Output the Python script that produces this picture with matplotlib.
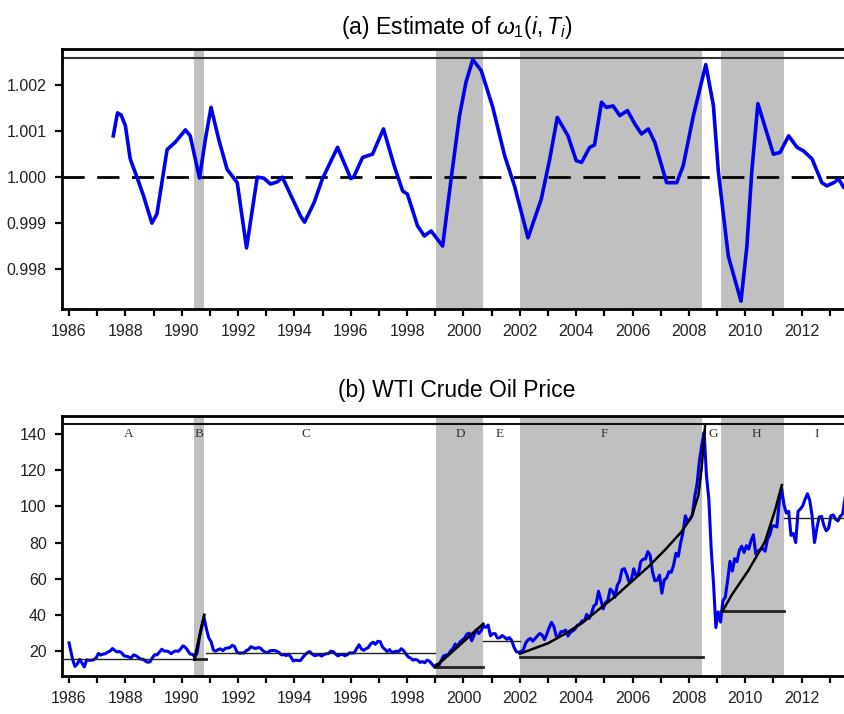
import matplotlib.pyplot as plt
import numpy as np
from matplotlib.ticker import MultipleLocator, FuncFormatter

# (a) estimate of omega_1(i, T_i)
om_t = [1987.57, 1987.72, 1987.85, 1988.0, 1988.17, 1988.41, 1988.64, 1988.94, 1989.12,
        1989.48, 1989.77, 1990.13, 1990.3, 1990.63, 1990.84, 1991.04, 1991.31, 1991.61,
        1991.97, 1992.3, 1992.68, 1992.91, 1993.15, 1993.4, 1993.57, 1994.22, 1994.36,
        1994.7, 1994.99, 1995.53, 1996.0, 1996.1, 1996.42, 1996.77, 1997.16, 1997.54,
        1997.84, 1998.01, 1998.37, 1998.61, 1998.85, 1999.26, 1999.56, 1999.86, 2000.09,
        2000.33, 2000.63, 2001.04, 2001.46, 2001.81, 2002.29, 2002.76, 2003.06, 2003.33,
        2003.71, 2004.0, 2004.19, 2004.48, 2004.65, 2004.9, 2005.07, 2005.31, 2005.55,
        2005.82, 2006.08, 2006.32, 2006.56, 2006.79, 2007.21, 2007.57, 2007.8, 2008.16,
        2008.6, 2008.87, 2009.05, 2009.4, 2009.85, 2010.06, 2010.23, 2010.45, 2010.65,
        2011.0, 2011.24, 2011.54, 2011.84, 2012.07, 2012.37, 2012.72, 2012.9, 2013.14,
        2013.32, 2013.5, 2013.62]
om_v = [1.0009, 1.0014, 1.00135, 1.00112, 1.0004, 1.0000, 0.9996, 0.9990, 0.9992,
        1.0006, 1.00076, 1.00103, 1.0009, 0.99998, 1.00083, 1.00152, 1.00083, 1.00017,
        0.99988, 0.99846, 1.0000, 0.99998, 0.99985, 0.9999, 1.0000, 0.99915, 0.99902,
        0.99945, 0.99996, 1.00065, 0.99997, 1.0000, 1.00043, 1.0005, 1.00105, 1.00025,
        0.9997, 0.99963, 0.99894, 0.99872, 0.99883, 0.9985, 0.99996, 1.00134, 1.00207,
        1.00256, 1.00232, 1.00152, 1.00047, 0.99981, 0.99868, 0.99952, 1.00039, 1.0013,
        1.0009, 1.00036, 1.00032, 1.00065, 1.0007, 1.00163, 1.00152, 1.00155, 1.00134,
        1.00145, 1.00116, 1.00094, 1.00105, 1.00076, 0.99988, 0.99988, 1.00025, 1.00134,
        1.00245, 1.00156, 1.0001, 0.99828, 0.9973, 0.9985, 1.0001, 1.0016, 1.0012,
        1.0005, 1.00054, 1.0009, 1.00065, 1.00057, 1.0004, 0.99988, 0.99981, 0.99988,
        0.99996, 0.99977, 0.9998]

# (b) WTI monthly prices 1986-2013
wti = [
    24.5, 15.5, 11.5, 12.8, 15.4, 13.4, 11.2, 15.1, 14.9, 14.9, 15.2, 16.1,
    18.7, 17.8, 18.3, 18.6, 19.4, 20.0, 21.4, 20.3, 19.5, 19.8, 18.9, 17.3,
    17.1, 16.7, 16.2, 17.9, 17.4, 16.5, 15.5, 15.5, 14.5, 13.8, 14.0, 16.3,
    18.0, 17.9, 19.4, 21.0, 20.0, 20.0, 19.6, 18.5, 19.6, 20.1, 19.8, 21.1,
    22.9, 22.1, 20.4, 18.4, 18.2, 16.9, 18.6, 27.2, 33.7, 38.5, 32.3, 27.3,
    25.2, 20.5, 19.9, 20.8, 21.2, 20.2, 21.4, 21.7, 21.9, 23.2, 22.5, 19.5,
    18.8, 19.0, 18.9, 20.2, 20.9, 22.4, 21.8, 21.4, 21.9, 21.7, 20.3, 19.4,
    19.1, 20.1, 20.3, 20.3, 19.9, 19.1, 17.9, 18.0, 17.5, 18.2, 16.7, 14.5,
    15.0, 14.8, 14.7, 16.4, 17.9, 19.1, 19.7, 18.4, 17.5, 17.7, 18.1, 17.2,
    18.0, 18.5, 18.6, 19.9, 19.7, 18.4, 17.3, 18.0, 18.2, 17.4, 18.0, 19.0,
    18.9, 19.1, 21.3, 23.5, 21.2, 20.4, 21.3, 22.0, 24.0, 24.9, 23.7, 25.4,
    25.2, 22.2, 21.0, 19.7, 20.8, 19.2, 19.6, 19.9, 19.8, 21.3, 20.2, 18.3,
    16.7, 16.1, 15.0, 15.4, 14.9, 13.7, 14.2, 13.5, 15.0, 14.4, 12.9, 11.3,
    12.5, 12.0, 14.7, 17.3, 17.8, 17.9, 20.1, 21.3, 23.9, 22.6, 25.0, 26.1,
    27.2, 29.4, 29.9, 25.7, 28.8, 31.8, 29.7, 31.2, 33.9, 33.1, 34.4, 28.5,
    29.6, 29.6, 27.2, 27.4, 28.6, 27.6, 26.5, 27.5, 25.9, 22.2, 19.6, 19.4,
    19.7, 20.7, 24.4, 26.2, 27.0, 25.5, 26.9, 28.4, 29.7, 28.9, 26.3, 29.4,
    32.9, 35.9, 33.6, 28.3, 28.1, 30.7, 30.8, 31.6, 28.3, 30.3, 31.1, 32.2,
    34.3, 34.7, 36.7, 36.7, 40.3, 38.0, 40.7, 44.9, 46.0, 53.1, 48.5, 43.3,
    46.8, 48.0, 54.3, 53.0, 49.8, 56.3, 58.7, 65.0, 65.6, 62.4, 58.3, 59.4,
    65.5, 61.6, 62.7, 69.4, 70.8, 70.9, 75.0, 73.0, 63.8, 58.9, 59.1, 62.0,
    52.0, 59.3, 60.4, 63.9, 63.5, 67.5, 74.1, 72.4, 79.9, 85.8, 94.8, 91.7,
    93.0, 95.4, 105.5, 112.6, 125.4, 134.0, 141.0, 116.7, 104.1, 76.6, 57.3, 33.0,
    41.7, 36.0, 47.9, 49.7, 59.0, 69.6, 64.2, 71.1, 69.4, 75.7, 78.0, 74.5,
    78.3, 76.4, 81.2, 84.3, 73.7, 75.3, 76.3, 76.6, 75.2, 81.9, 84.3, 89.2,
    89.2, 88.6, 102.9, 110.0, 100.9, 96.3, 97.3, 84.0, 85.0, 80.0, 97.2, 98.6,
    100.3, 104.0, 107.0, 103.3, 94.7, 80.0, 87.9, 94.1, 94.5, 89.5, 86.5, 87.9,
    94.8, 95.3, 92.9, 92.0, 94.5, 95.8, 104.6, 106.6, 106.3, 100.5, 93.9, 97.6,
]
wti_t = 1986 + (np.arange(len(wti)) + 0.5) / 12.0
wti_t[0] = 1986.0

# regimes
shade = [(1990.45, 1990.8), (1999.01, 2000.71), (2002.0, 2008.48), (2009.15, 2011.37)]
letters = ['A', 'B', 'C', 'D', 'E', 'F', 'G', 'H', 'I']
letter_x = [1988.1, 1990.6, 1994.4, 1999.9, 2001.3, 2005.0, 2008.85, 2010.4, 2012.55]

# fitted levels per regime (start, end, level, width)
levels = [(1985.75, 1990.85, 15.4, 1.0), (1990.45, 1990.85, 15.4, 2.0),
          (1990.85, 1999.0, 18.8, 1.0), (1999.0, 2000.7, 11.3, 2.0),
          (2000.7, 2002.0, 25.6, 1.0), (2002.0, 2008.5, 16.9, 2.0),
          (2009.15, 2011.37, 42.2, 2.0), (2011.37, 2013.8, 93.4, 1.0)]
# fitted trends
B_t, B_p = [1990.45, 1990.8], [15.4, 40.0]
D_t, D_p = [1999.0, 2000.7], [11.3, 35.0]
F_t = [2002.0, 2003.0, 2003.59, 2004.19, 2004.78, 2005.37, 2005.96, 2006.56, 2007.15,
       2007.74, 2008.1, 2008.34, 2008.46, 2008.55, 2008.58]
F_p = [18.5, 24.3, 29.4, 35.3, 42.7, 50.0, 58.3, 66.6, 75.9, 86.0, 94.3, 106.3, 122.0, 140.0, 145.4]
H_t = [2009.2, 2009.52, 2010.12, 2010.7, 2011.06, 2011.3]
H_p = [42.2, 51.0, 64.8, 80.5, 98.0, 111.8]

plt.rcParams['font.family'] = ['Liberation Sans', 'DejaVu Sans']
plt.rcParams['mathtext.fontset'] = 'custom'
plt.rcParams['mathtext.rm'] = 'Liberation Sans'
plt.rcParams['mathtext.it'] = 'Liberation Sans:italic'
fig = plt.figure(figsize=(8.45, 7.14), dpi=100)
ax1 = fig.add_axes([62/845, 1-309/714, 790/845, 260/714])
ax2 = fig.add_axes([62/845, 1-676/714, 790/845, 260/714])

for ax in (ax1, ax2):
    for a, b in shade:
        ax.axvspan(a, b, color='#c0c0c0', lw=0, zorder=0)
    ax.set_xlim(1985.75, 2013.79)
    ax.xaxis.set_major_locator(MultipleLocator(1))
    ax.xaxis.set_major_formatter(FuncFormatter(lambda v, p: '%d' % v if int(round(v)) % 2 == 0 else ''))
    ax.tick_params(direction='out', length=5, width=1.6, labelsize=11.5, pad=6,
                   labelcolor='#222222')
    for s in ax.spines.values():
        s.set_linewidth(2)

# top panel
ax1.plot(om_t, om_v, color='#0000ee', lw=2.6, solid_joinstyle='round', zorder=3)
ax1.axhline(1.0, color='black', lw=2, dashes=(8, 4.5), zorder=2)
ax1.axhline(1.0026, color='#333333', lw=1.5, zorder=2)
ax1.set_ylim(0.99713, 1.00279)
ax1.set_yticks([0.998, 0.999, 1.000, 1.001, 1.002])
ax1.yaxis.set_major_formatter(FuncFormatter(lambda v, p: '%.3f' % v))
ax1.set_title(r'(a) Estimate of $\omega_1(i,T_i)$', fontsize=16.5, pad=11)

# bottom panel
ax2.plot(wti_t, wti, color='#0000ee', lw=2.2, zorder=3)
for a, b, lev, w in levels:
    ax2.plot([a, b], [lev, lev], color='#222222', lw=w, zorder=4)
ax2.plot(B_t, B_p, color='black', lw=2, zorder=4)
ax2.plot(D_t, D_p, color='black', lw=2, zorder=4)
ax2.plot(F_t, F_p, color='black', lw=1.8, zorder=4)
ax2.plot(H_t, H_p, color='black', lw=1.8, zorder=4)
ax2.axhline(145.4, color='#111111', lw=1.5, zorder=5)
for lab, x in zip(letters, letter_x):
    ax2.text(x, 140.3, lab, family=['Liberation Serif', 'DejaVu Serif'], fontsize=9.5,
             color='#333333', ha='center', va='center', zorder=5)
ax2.set_ylim(6.2, 150)
ax2.set_yticks([20, 40, 60, 80, 100, 120, 140])
ax2.set_title('(b) WTI Crude Oil Price', fontsize=16.5, pad=14)

fig.savefig('out.png', dpi=100)
